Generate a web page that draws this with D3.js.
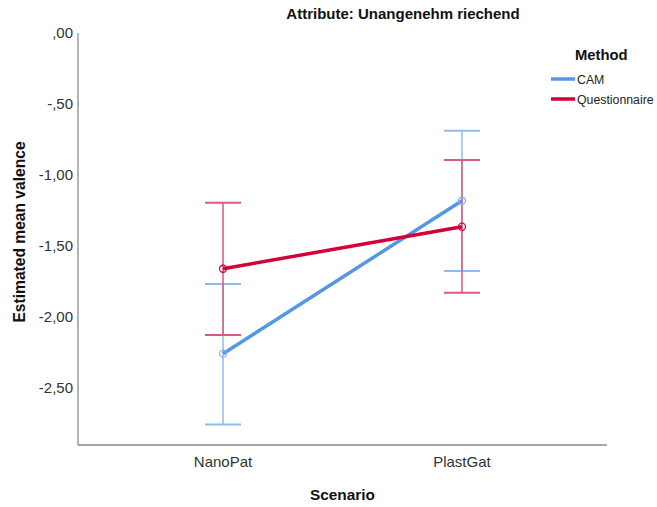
<!DOCTYPE html>
<html><head><meta charset="utf-8">
<script src="https://cdn.jsdelivr.net/npm/d3@7"></script>
<style>body{margin:0;background:#fff}svg{display:block;font-family:"Liberation Sans",Arial,sans-serif}</style>
</head><body><svg id="c" width="657" height="507"></svg>
<script>
const scenarios = ["NanoPat", "PlastGat"];
const methods = ["CAM", "Questionnaire"];
const camMean = [-2.258, -1.181];
const camLow = [-2.756, -1.676];
const camHigh = [-1.768, -0.688];
const qMean = [-1.660, -1.364];
const qLow = [-2.127, -1.829];
const qHigh = [-1.195, -0.894];
const yTicks = [0, -0.5, -1.0, -1.5, -2.0, -2.5];
const yTickLabels = [",00", "-,50", "-1,00", "-1,50", "-2,00", "-2,50"];
const lineColors = ["#5597E3", "#D5003A"];
const barColors = ["#8EBCF0", "#DA5A7C"];

const series = [
  {name: methods[0], mean: camMean, low: camLow, high: camHigh},
  {name: methods[1], mean: qMean, low: qLow, high: qHigh}
];

const svg = d3.select("#c");
const L = 78, R = 607, T = 33, B = 445;
const x = d3.scalePoint().domain(scenarios).range([L, R]).padding(0.607);
const y = d3.scaleLinear().domain([-2.901, 0]).range([B, T]);

// axes
svg.append("line").attr("x1", L).attr("x2", L).attr("y1", T).attr("y2", B).attr("stroke", "#8a8a8a").attr("stroke-width", 1.3);
svg.append("line").attr("x1", L).attr("x2", R).attr("y1", B).attr("y2", B).attr("stroke", "#8a8a8a").attr("stroke-width", 1.3);

svg.selectAll(".yt").data(yTicks).enter().append("text")
  .attr("x", L - 5).attr("y", d => y(d) + 5).attr("text-anchor", "end")
  .attr("font-size", 15).attr("fill", "#333")
  .text((d, i) => yTickLabels[i]);

svg.selectAll(".xt").data(scenarios).enter().append("text")
  .attr("x", d => x(d)).attr("y", B + 22).attr("text-anchor", "middle")
  .attr("font-size", 15).attr("fill", "#333").text(d => d);

// titles
svg.append("text").attr("x", 403).attr("y", 19).attr("text-anchor", "middle")
  .attr("font-size", 15).attr("font-weight", "bold").attr("fill", "#111").text("Attribute: Unangenehm riechend");
svg.append("text").attr("x", 342.5).attr("y", 500).attr("text-anchor", "middle")
  .attr("font-size", 15.4).attr("font-weight", "bold").attr("fill", "#111").text("Scenario");
svg.append("text").attr("transform", "translate(25,232) rotate(-90)").attr("text-anchor", "middle")
  .attr("font-size", 15.6).attr("font-weight", "bold").attr("fill", "#111").text("Estimated mean valence");

// error bars
const cap = 18;
series.forEach((s, si) => {
  const g = svg.append("g");
  scenarios.forEach((sc, i) => {
    const cx = x(sc);
    g.append("line").attr("x1", cx).attr("x2", cx).attr("y1", y(s.low[i])).attr("y2", y(s.high[i]))
      .attr("stroke", barColors[si]).attr("stroke-width", 1.5);
    [s.low[i], s.high[i]].forEach(v => {
      g.append("line").attr("x1", cx - cap).attr("x2", cx + cap).attr("y1", y(v)).attr("y2", y(v))
        .attr("stroke", barColors[si]).attr("stroke-width", 2);
    });
  });
});

// lines and markers
const line = d3.line().x((d, i) => x(scenarios[i])).y(d => y(d));
series.forEach((s, si) => {
  svg.append("path").datum(s.mean).attr("d", line).attr("fill", "none")
    .attr("stroke", lineColors[si]).attr("stroke-width", 3.5);
  svg.selectAll(".m" + si).data(s.mean).enter().append("circle")
    .attr("cx", (d, i) => x(scenarios[i])).attr("cy", d => y(d)).attr("r", 3.5)
    .attr("fill", "none").attr("stroke", si === 0 ? "#7FB2EC" : lineColors[si]).attr("stroke-width", 1.3);
});

// legend
svg.append("text").attr("x", 575).attr("y", 60).attr("font-size", 14.8).attr("font-weight", "bold").attr("fill", "#111").text("Method");
methods.forEach((m, i) => {
  const ly = 79 + i * 20;
  svg.append("line").attr("x1", 551).attr("x2", 575).attr("y1", ly).attr("y2", ly)
    .attr("stroke", lineColors[i]).attr("stroke-width", 3.5);
  svg.append("text").attr("x", 577).attr("y", ly + 4.5).attr("font-size", 12.3).attr("fill", "#222").text(m);
});
</script></body></html>
